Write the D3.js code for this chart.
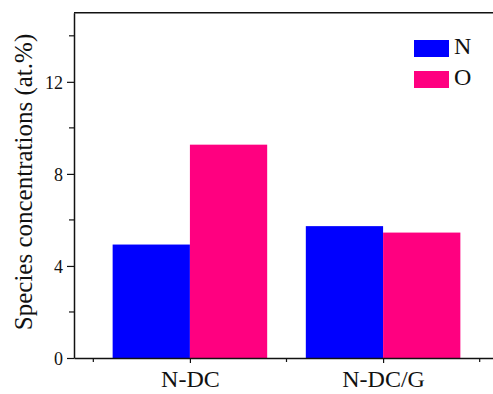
<!DOCTYPE html>
<html><head><meta charset="utf-8">
<script src="https://cdn.jsdelivr.net/npm/d3@7"></script>
<style>body{margin:0;background:#fff}svg{display:block}svg text{font-family:"Liberation Serif","Times New Roman",serif !important;fill:#111}</style>
</head><body>
<script>
const categories = ["N-DC", "N-DC/G"];
const seriesNames = ["N", "O"];
const seriesColors = ["#0000ff", "#ff0080"];
const valuesN = [4.93, 5.73];
const valuesO = [9.27, 5.45];
const yTickValues = [0, 4, 8, 12];
const yMinorTicks = [2, 6, 10, 14];
const xMinorTicks = [0.5, 1.5, 2.5];

const W = 493, H = 394;
const FONT = '"Liberation Serif","Times New Roman",serif';
const svg = d3.select("body").append("svg").attr("width", W).attr("height", H);

const x = d3.scaleLinear().domain([0.4, 2.6]).range([74, 499]);
const y = d3.scaleLinear().domain([0, 15]).range([358, 12.8]);
const bw = 0.4;
const series = [valuesN, valuesO];

// bars
series.forEach((vals, si) => {
  svg.append("g").selectAll("rect").data(vals).join("rect")
    .attr("x", (d, i) => x(i + 1 + (si === 0 ? -bw : 0)))
    .attr("width", x(bw) - x(0))
    .attr("y", d => y(d))
    .attr("height", d => y(0) - y(d))
    .attr("fill", seriesColors[si]);
});

// y axis
const yAxis = d3.axisLeft(y).tickValues(yTickValues).tickSizeInner(7).tickSizeOuter(0).tickPadding(4).tickFormat(d3.format("d"));
const gy = svg.append("g").attr("transform", `translate(${x(0.4)},0)`).call(yAxis).attr("font-family", FONT);
gy.selectAll(".tick text").attr("font-size", 18).attr("fill", "#111").attr("dy", "0.35em");
gy.append("g").selectAll("line").data(yMinorTicks).join("line")
  .attr("x1", -5).attr("x2", 0).attr("y1", d => y(d)).attr("y2", d => y(d)).attr("stroke", "#111").attr("stroke-width", 1.2);

// x axis
const xAxis = d3.axisBottom(x).tickValues([1, 2]).tickSizeInner(5).tickSizeOuter(0).tickPadding(7).tickFormat(d => categories[d - 1]);
const gx = svg.append("g").attr("transform", `translate(0,${y(0)})`).call(xAxis).attr("font-family", FONT);
gx.selectAll(".tick text").attr("font-size", 24).attr("fill", "#111");
gx.append("g").selectAll("line").data(xMinorTicks).join("line")
  .attr("x1", d => x(d)).attr("x2", d => x(d)).attr("y1", 0).attr("y2", 4).attr("stroke", "#111").attr("stroke-width", 1.2);

[gx, gy].forEach(g => {
  g.select(".domain").attr("stroke", "#111").attr("stroke-width", 1.5);
  g.selectAll(".tick line").attr("stroke", "#111").attr("stroke-width", 1.2);
});

// frame top
svg.append("line").attr("x1", x(0.4)).attr("x2", x(2.6)).attr("y1", y(15)).attr("y2", y(15)).attr("stroke", "#111").attr("stroke-width", 1.5);

// y title
svg.append("text").attr("transform", `translate(32,182) rotate(-90)`)
  .attr("text-anchor", "middle").attr("font-size", 25).attr("font-family", FONT).text("Species concentrations (at.%)");

// legend
const lg = svg.append("g").attr("font-family", FONT);
seriesNames.forEach((n, i) => {
  lg.append("rect").attr("x", 414).attr("y", 40 + i * 31).attr("width", 35).attr("height", 17).attr("fill", seriesColors[i]);
  lg.append("text").attr("x", 454).attr("y", 54 + i * 31).attr("font-size", 24).text(n);
});
</script>
</body></html>
